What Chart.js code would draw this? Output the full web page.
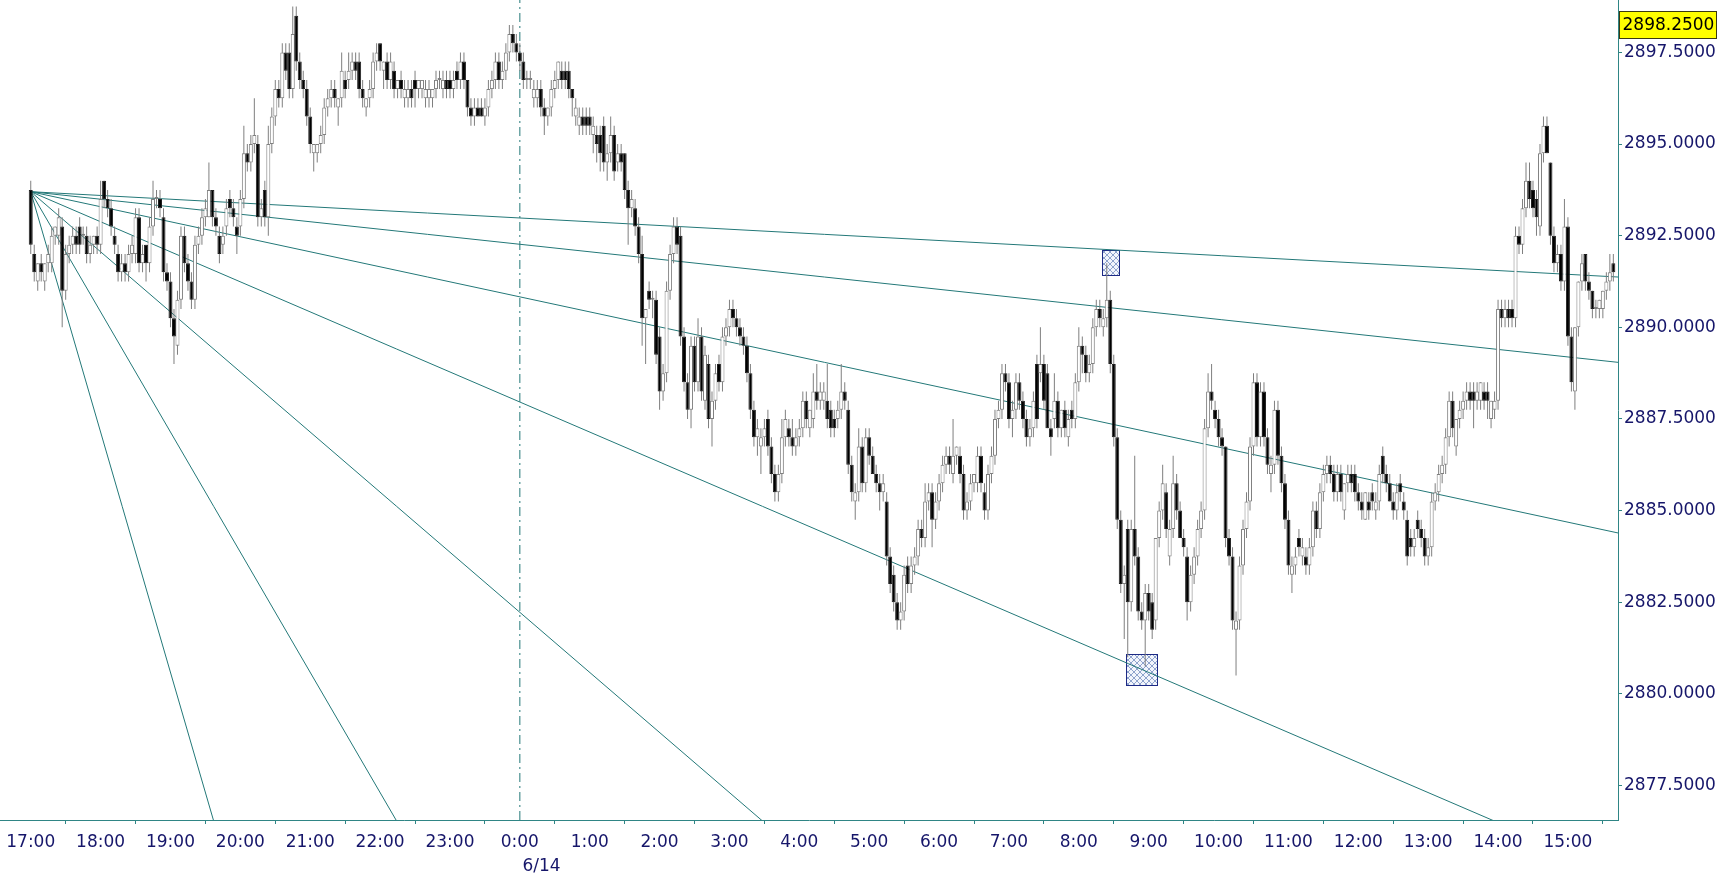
<!DOCTYPE html>
<html><head><meta charset="utf-8">
<script src="https://cdn.jsdelivr.net/npm/chart.js@4.4.1/dist/chart.umd.min.js"></script>
<style>html,body{margin:0;padding:0;background:#ffffff;overflow:hidden}#wrap{width:1719px;height:891px;position:relative}</style>
</head><body><div id="wrap"><canvas id="c"></canvas></div>
<script>
const barMinutes = 3; // 3-minute candles starting 17:00
const opens = [
2893.75,2892,2891.25,2891.75,2891.25,2891.75,2891.75,2892.5,2892.5,2892.75,2891,2892,2892.25,2892.5,2892.75,2892.5,2892.5,2892,2892.25,2892.5,
2892.25,2894,2893.5,2893.25,2892.5,2892,2891.5,2891.75,2891.5,2892,2892,2893,2891.75,2892.25,2891.75,2892.75,2893.5,2893.5,2893,2891.5,
2891.25,2890.25,2889.5,2890.75,2892.5,2891.75,2891.25,2890.75,2892.25,2892.5,2893,2893,2893.75,2893,2892.5,2892.25,2892.75,2893.5,2893.25,2892.75,
2892.75,2893.5,2894.75,2894.5,2895,2895,2893,2893.75,2893,2895,2895.75,2896.5,2896.25,2897.5,2897.5,2896.5,2898.5,2897.25,2896.75,2896.5,
2895.75,2894.75,2894.75,2895,2895.25,2896,2896.25,2896.5,2896,2896.25,2896.75,2896.75,2897,2897.25,2897.25,2896.5,2896,2896.25,2896.5,2897.25,
2897.75,2897,2897.25,2896.75,2897,2896.5,2896.75,2896.25,2896.25,2896.5,2896.75,2896.5,2896.5,2896.25,2896.25,2896.25,2896.5,2896.75,2896.5,2896.75,
2896.75,2896.5,2897,2896.75,2897.25,2896.75,2896,2895.75,2896,2896,2895.75,2896,2896.5,2896.75,2897.25,2896.75,2897,2897.5,2898,2897.75,
2897.5,2897.25,2896.75,2896.75,2896.25,2896.25,2896.5,2896,2895.75,2896,2896.5,2896.75,2897,2897,2897,2896.5,2895.75,2895.5,2895.75,2895.75,
2895.75,2895.25,2895.25,2895.25,2895.5,2894.5,2894.75,2895.25,2894.5,2894.75,2894.75,2893.75,2893.25,2893.25,2892.75,2892,2890.25,2891,2890.75,2890.75,
2889.75,2888.25,2888.75,2891,2892,2892.75,2892.5,2889.75,2888.5,2887.75,2889.5,2888.5,2889.75,2888,2889,2887.5,2888,2889,2888.5,2889.75,
2890,2890.5,2890.25,2890,2889.75,2889.5,2888.75,2887.75,2887,2886.75,2887,2887.5,2886.75,2886,2885.5,2886,2887,2887.25,2887,2886.75,
2887,2887.25,2888,2887.25,2887.5,2888.25,2888,2888,2888,2887.75,2887.5,2887.5,2887.75,2888.25,2887.75,2886.25,2885.25,2885.5,2886.75,2885.75,
2887,2886.5,2886,2885.75,2885.5,2885.25,2883.75,2883.25,2882.5,2882,2882.25,2883.5,2883,2883.5,2883.75,2884.5,2884.25,2885.25,2885.5,2884.75,
2885.25,2885.75,2886.25,2886.5,2886,2886.5,2886.5,2886,2885,2885.25,2885.75,2885.75,2886.5,2885.5,2885,2886,2886.5,2887.5,2887.75,2888.75,
2888.5,2887.5,2887.75,2888.5,2888,2887.5,2887,2887.25,2889,2888.75,2889,2888.75,2887.25,2887.5,2888,2887.25,2887.75,2887,2887.75,2887.5,
2888.5,2889.5,2889.25,2888.75,2889,2890,2890.5,2890,2890.25,2890.75,2889,2887,2884.75,2883,2884.5,2882.5,2884.5,2883.75,2882.25,2882,
2882.75,2882.5,2882,2884.25,2885,2885.5,2883.75,2884.5,2885.75,2885,2884.25,2883.75,2882.5,2883.25,2883.75,2884.5,2885,2887.25,2888.25,2887.75,
2887.5,2887,2886.75,2884.25,2883.75,2881.75,2882,2883.5,2884.5,2885.25,2886.75,2888.5,2887,2888.25,2887,2886,2886.25,2887.75,2886.5,2885.75,
2884.75,2883.25,2883.5,2884.25,2883.75,2883.75,2883.5,2884,2885,2884.5,2885.5,2886,2886.25,2886,2885.5,2886,2885,2885.75,2886,2886,
2885.5,2885.25,2884.75,2885.25,2885.5,2885,2885.25,2886.5,2886,2885.75,2885.25,2885,2885.75,2885.25,2884.75,2884.25,2884,2884.75,2884.5,2884.25,
2883.75,2884,2885.25,2885.5,2886,2886.25,2887,2888,2886.75,2887.5,2887.75,2888,2888.25,2888.25,2888,2888,2888.25,2888.25,2887.5,2887.75,
2888,2890.5,2890.25,2890.5,2890.5,2890.25,2892.5,2892.25,2893.25,2894,2893.75,2893.5,2892.75,2894.75,2895.5,2894.5,2892.5,2891.75,2892,2891.25,
2892.75,2889.75,2888.25,2890,2891.25,2892,2891.25,2891,2890.5,2890.5,2890.5,2891,2891.25,2891.75
];
const highs = [
2894,2892.25,2891.75,2892,2891.75,2892.25,2892.75,2892.75,2893.25,2893,2892.25,2892.5,2892.75,2892.75,2893,2892.75,2892.75,2892.5,2892.5,2892.75,
2894,2894,2893.75,2893.5,2892.75,2892.25,2892,2892,2892.25,2892.5,2893.25,2893.25,2892.25,2892.25,2893,2894,2893.75,2893.75,2893.25,2891.75,
2891.5,2890.5,2891,2892.75,2892.75,2892,2891.5,2892.5,2892.75,2893.25,2893.5,2894.5,2893.75,2893.25,2892.75,2892.75,2893.5,2893.75,2893.5,2893,
2893.75,2895.5,2895,2895.25,2896.25,2895.25,2893.5,2894,2895.5,2896,2896.75,2896.75,2897.75,2897.75,2897.75,2898.75,2898.75,2897.5,2897,2896.75,
2896,2895,2895,2895.5,2896.25,2896.5,2896.75,2896.75,2896.25,2897.5,2897,2897.5,2897.5,2897.5,2897.5,2896.75,2896.25,2896.75,2897.5,2897.75,
2897.75,2897.25,2897.5,2897.5,2897.25,2896.75,2897,2896.75,2896.75,2896.75,2897,2896.75,2896.75,2896.75,2896.75,2896.5,2897,2897,2897,2897,
2897,2897,2897.25,2897.5,2897.5,2896.75,2896.25,2896.25,2896.25,2896.25,2896.25,2896.75,2897,2897.5,2897.5,2897.25,2897.75,2898.25,2898.25,2898,
2897.75,2897.5,2897,2897,2896.75,2896.75,2896.75,2896.25,2896,2896.75,2897,2897.25,2897.25,2897.25,2897.25,2896.5,2896.25,2896,2896,2896,
2896,2895.75,2895.5,2895.5,2895.75,2895,2895.75,2895.5,2895,2895,2894.75,2894,2893.75,2893.5,2893,2892.5,2890.5,2891.25,2891,2891,
2890,2889,2891.25,2892.25,2893,2893,2892.75,2890,2888.75,2889.75,2889.75,2890.25,2890,2889.5,2889.25,2888.25,2889,2889.25,2890,2890.25,
2890.75,2890.75,2890.5,2890.25,2890,2889.75,2889,2888,2887.5,2887.25,2887.5,2887.75,2887,2886.25,2886.25,2887.5,2887.75,2887.5,2887.5,2887.25,
2887.5,2888.25,2888.25,2887.75,2888.75,2889,2888.5,2888.5,2889,2888,2887.75,2888,2889,2888.5,2888,2886.5,2885.75,2887.25,2887,2887.25,
2887.25,2886.75,2886.25,2886,2886,2885.5,2884,2883.5,2882.75,2882.5,2883.5,2883.75,2883.75,2884,2884.75,2884.75,2885.75,2885.75,2885.75,2885.5,
2886,2886.5,2886.75,2886.75,2887.5,2886.75,2886.75,2886.25,2885.5,2886,2886,2886.75,2886.75,2885.75,2886.25,2886.75,2887.75,2888,2889,2889,
2888.75,2888,2888.75,2888.75,2888.25,2887.75,2887.5,2888.25,2889.25,2890,2889.25,2889,2887.5,2888.75,2888.25,2887.75,2888,2887.75,2888,2888.75,
2890,2889.75,2889.5,2889.25,2890.25,2890.75,2890.75,2890.5,2891.75,2891,2889.25,2887.25,2885,2883.5,2884.75,2884.75,2886.5,2884,2882.5,2883,
2883,2882.75,2884.25,2885.25,2886.25,2885.75,2884.75,2886.5,2886,2885.25,2884.5,2884,2883.5,2884,2884.75,2885.25,2887.5,2888.75,2889,2888,
2887.75,2887.25,2886.75,2884.5,2884,2882.25,2883.75,2884.75,2885.5,2887,2888.75,2888.75,2888.5,2888.5,2887.25,2886.5,2888,2888,2886.75,2886,
2885,2883.75,2884,2884.5,2884.25,2884,2884.25,2885.25,2885.25,2885.75,2886.25,2886.5,2886.5,2886.25,2886.25,2886.25,2885.75,2886.25,2886.25,2886.25,
2885.75,2885.5,2885.5,2885.5,2885.75,2885.5,2886.25,2886.75,2886.25,2886,2885.5,2885.75,2886,2885.5,2885,2884.5,2884.5,2885,2884.75,2884.5,
2884.25,2885.5,2885.75,2886.25,2886.5,2887.25,2888.25,2888.25,2887.5,2888,2888.25,2888.5,2888.5,2888.5,2888.5,2888.5,2888.5,2888.5,2888,2888.25,
2890.75,2890.75,2890.75,2890.75,2890.75,2892.75,2892.75,2893.5,2894.5,2894.5,2894,2893.75,2895,2895.75,2895.75,2894.5,2892.75,2892.25,2892.25,2893.5,
2893,2890,2890,2891.25,2892,2892,2891.5,2891,2890.75,2890.75,2891,2891.5,2892,2892
];
const lows = [
2892,2891.25,2891,2891.25,2891,2891.5,2891.5,2892.25,2892.25,2890,2890.75,2891.75,2892,2892,2892,2892.25,2891.75,2891.75,2892,2892,
2892,2893.25,2893,2892.5,2892,2891.25,2891.25,2891.25,2891.25,2891.75,2891.75,2891.5,2891.5,2891.25,2891.5,2892.5,2893.25,2893,2891.25,2891,
2890,2889,2889.25,2890.5,2891.5,2891,2890.5,2890.5,2892,2892.25,2892.75,2893,2892.75,2892.5,2891.75,2892,2892.5,2893,2892.75,2892,
2892.5,2893.25,2894.25,2894.25,2894.75,2892.75,2892.75,2892.75,2892.5,2894.75,2895.5,2896,2896,2896.75,2896.25,2896.25,2897,2896.5,2896.25,2895.5,
2894.75,2894.25,2894.5,2894.75,2895,2895.75,2896,2896,2895.5,2896,2896.25,2896.5,2896.75,2896.75,2896.25,2896,2895.75,2896,2896.25,2897,
2897,2896.5,2896.5,2896.5,2896.25,2896.25,2896.25,2896,2896,2896,2896,2896.25,2896.25,2896,2896,2896,2896.25,2896.5,2896.25,2896.25,
2896.25,2896.25,2896.5,2896.5,2896.5,2895.75,2895.5,2895.5,2895.75,2895.75,2895.5,2895.75,2896.25,2896.5,2896.5,2896.5,2896.75,2897.25,2897.5,2897.25,
2897,2896.5,2896.5,2896.5,2896,2896,2895.75,2895.25,2895.5,2895.75,2896.25,2896.5,2896.5,2896.5,2896.25,2895.75,2895.5,2895.25,2895.25,2895.25,
2895.25,2894.75,2894.5,2894.25,2894.25,2894,2894.5,2894,2894.25,2894.25,2893.5,2892.25,2893,2892.5,2891.75,2889.5,2889,2890.5,2890.25,2889,
2887.75,2888,2888.5,2890.75,2891.75,2892,2889.5,2888.25,2887.5,2887.25,2888.25,2888.25,2888,2887.75,2887.25,2886.75,2887.75,2888.25,2888.25,2889.5,
2889.75,2890,2889.75,2889.5,2889.25,2888.5,2887.5,2886.75,2886.5,2886,2886.75,2886.5,2885.75,2885.25,2885.25,2885.75,2886.75,2886.75,2886.5,2886.5,
2886.75,2887,2887.25,2887,2887.25,2887.75,2887.75,2887.75,2887.25,2887,2887,2887.25,2887.5,2887.75,2886,2885.25,2884.75,2885.25,2885.5,2885.5,
2886.25,2886,2885.5,2885,2885.25,2883.5,2882.75,2882.25,2881.75,2881.75,2882,2882.75,2882.75,2883.25,2883.5,2884,2884,2885,2884,2884.5,
2885,2885.5,2886,2886,2885.75,2886.25,2885.75,2884.75,2884.75,2885,2885.5,2885.5,2885.5,2884.75,2884.75,2885.75,2886.25,2887.25,2887.5,2888.25,
2887.25,2887,2887.5,2887.75,2887.25,2886.75,2886.75,2887,2887.25,2888.5,2887.75,2887.25,2886.5,2887.25,2887,2887,2887,2886.75,2887.25,2887.25,
2888.25,2888.75,2888.5,2888.5,2888.75,2889.75,2890,2889.75,2890,2888.75,2886.75,2884.5,2882.75,2881.5,2881,2882.25,2883.5,2882,2881.75,2880.75,
2882,2881.5,2881.75,2884,2884.75,2884.25,2883.5,2884.25,2884.75,2884.25,2883.75,2882,2882.25,2883,2883.5,2884.25,2884.75,2887,2887.75,2887.25,
2886.75,2886.5,2884,2883.5,2881.75,2880.5,2881.75,2883.25,2884.25,2885,2886.5,2886.75,2886.75,2886.75,2886,2885.5,2886,2886.25,2885.5,2884.5,
2883.25,2882.75,2883.25,2883.75,2883.5,2883.25,2883.25,2883.75,2884.25,2884.25,2885.25,2885.75,2885.75,2885.25,2885.25,2885.25,2884.75,2885.5,2885.5,2885.25,
2885,2884.75,2884.75,2884.75,2885,2884.75,2885,2885.75,2885.5,2885.25,2884.75,2884.75,2885.25,2884.75,2883.5,2883.75,2883.75,2884.25,2884,2883.5,
2883.5,2883.75,2885,2885.25,2885.75,2886,2886.75,2887,2886.5,2887.25,2887.5,2887.75,2887.75,2887.25,2887.75,2887.75,2887.75,2887.5,2887.25,2887.5,
2887.75,2890,2890,2890,2890,2890,2892,2892,2893,2893.25,2893,2892.5,2892.5,2894.5,2894.75,2892.25,2891.5,2891.5,2891,2891,
2889.5,2888.25,2887.75,2889.75,2891,2891,2890.75,2890.25,2890.25,2890.25,2890.25,2890.75,2891,2891.25
];
const closes = [
2892.25,2891.5,2891.75,2891.5,2891.75,2892,2892.5,2892.75,2893,2891,2892,2892.25,2892.5,2892.25,2892.25,2892.5,2892,2892.25,2892.5,2892.25,
2893.5,2893.5,2893.25,2892.75,2892.25,2891.5,2891.75,2891.5,2892,2892.25,2893,2891.75,2892,2891.75,2892.75,2893.5,2893.5,2893.25,2891.5,2891.25,
2890.25,2889.75,2890.75,2892.5,2891.75,2891.25,2890.75,2892.25,2892.5,2893,2893.25,2893.75,2893,2892.75,2892,2892.5,2893.25,2893.25,2893,2892.5,
2893.5,2894.75,2894.5,2895,2895.25,2893,2893.25,2893,2895,2895.75,2896.5,2896.25,2897.5,2897,2896.5,2898,2897.25,2896.75,2896.5,2895.75,
2895,2895,2895,2895.25,2896,2896.25,2896.5,2896.25,2896.25,2897,2896.5,2897,2897.25,2897,2896.5,2896.25,2896.25,2896.5,2897.25,2897.5,
2897.25,2897.25,2896.75,2897.25,2896.5,2896.75,2896.5,2896.5,2896.5,2896.25,2896.5,2896.75,2896.75,2896.5,2896.5,2896.5,2896.75,2896.75,2896.75,2896.5,
2896.5,2896.75,2896.75,2897.25,2896.75,2896,2895.75,2896,2895.75,2895.75,2896,2896.5,2896.75,2897.25,2896.75,2897,2897.5,2898,2897.75,2897.5,
2897.25,2896.75,2896.75,2896.75,2896.5,2896.5,2896,2895.75,2896,2896.5,2896.75,2897.25,2896.75,2896.75,2896.5,2896.25,2896,2895.75,2895.5,2895.5,
2895.5,2895.5,2895,2894.75,2894.5,2894.75,2895.25,2894.25,2894.75,2894.5,2893.75,2893.25,2893.5,2892.75,2892,2890.25,2890.5,2890.75,2890.75,2889.25,
2888.25,2888.75,2891,2892,2892.75,2892.25,2889.75,2888.5,2887.75,2889.5,2888.5,2889.75,2888.25,2889.25,2887.5,2888,2888.75,2888.5,2889.75,2890,
2890.5,2890.25,2890,2889.75,2889.5,2888.75,2887.75,2887,2887.25,2887,2887.25,2886.75,2886,2885.5,2886,2887,2887.5,2887,2886.75,2887,
2887.25,2888,2887.5,2887.75,2888.25,2888,2888.25,2888.25,2887.5,2887.25,2887.25,2887.75,2888.25,2888,2886.25,2885.5,2885.5,2886.75,2885.75,2887,
2886.5,2886,2885.75,2885.5,2885.75,2883.75,2883,2882.5,2882,2882.25,2883.25,2883,2883.5,2883.75,2884.5,2884.25,2885.25,2885.5,2884.75,2885.25,
2885.75,2886.25,2886.5,2886.25,2886.5,2886.75,2886,2885,2885.25,2885.75,2886,2886.5,2885.75,2885,2886,2886.5,2887.5,2887.75,2888.75,2888.5,
2887.5,2887.75,2888.5,2888,2887.5,2887,2887.25,2888,2887.5,2889,2888,2887.25,2887,2888,2887.25,2887.75,2887.25,2887.5,2887.5,2888.5,
2889.5,2889.25,2888.75,2889,2890,2890.5,2890.25,2890.25,2890.75,2889,2887,2884.75,2883,2883.25,2882.5,2884.5,2883.75,2882.25,2882,2882.75,
2882.25,2881.75,2884.25,2885,2885.75,2884.5,2884.5,2885.75,2885,2884.25,2884,2882.5,2883.25,2883.75,2884.5,2885,2887.25,2888.25,2888,2887.5,
2887,2886.75,2884.25,2883.75,2882,2882,2883.5,2884.5,2885.25,2886.75,2888.5,2887,2888.25,2887,2886.25,2886.25,2887.75,2886.5,2885.75,2884.75,
2883.5,2883.5,2883.75,2884,2884,2883.5,2884,2885,2884.5,2885.5,2886,2886.25,2886,2885.5,2886,2885.5,2885.75,2886,2885.75,2885.5,
2885.25,2885,2885.5,2885,2885.25,2885.25,2886,2886,2885.75,2885.25,2885,2885.5,2885.5,2885,2883.75,2884,2884.25,2884.5,2884.25,2883.75,
2884,2885.25,2885.5,2886,2886.25,2887,2888,2887.25,2887.5,2887.75,2888,2888.25,2888,2888,2888.25,2888.5,2888,2888,2888,2888,
2890.5,2890.25,2890.5,2890.25,2890.25,2892.5,2892.25,2893.25,2894,2893.5,2893.25,2893,2894.75,2895.5,2894.75,2892.5,2891.75,2892,2891.25,2892.75,
2889.75,2888.5,2890,2891.25,2891.75,2891.25,2891,2890.5,2890.5,2890.75,2891,2891.25,2891.5,2891.5
];
const xTickMinutes = [0,60,120,180,240,300,360,420,480,540,600,660,720,780,840,900,960,1020,1080,1140,1200,1260,1320];
const xTickLabels = ['17:00','18:00','19:00','20:00','21:00','22:00','23:00',['0:00','\u2007\u2007\u2007\u20076/14'],'1:00','2:00','3:00','4:00','5:00','6:00','7:00','8:00','9:00','10:00','11:00','12:00','13:00','14:00','15:00'];
const yTicks = [2877.5,2880,2882.5,2885,2887.5,2890,2892.5,2895,2897.5];
const markerPrice = 2898.25;
const fanAnchorTime = 0, fanAnchorPrice = 2893.70;
const fanBaseSlope = -0.01366; // price per minute of the 1x1 line
const fanRatios = [0.125,0.25,0.5,1,2,4,8];
const sessionBreakTime = 420;
const boxTimes = [[919.7,934.6],[940.5,967.2]];
const boxPrices = [[2891.43,2892.10],[2880.25,2881.09]];
const xRange = [-26.4,1363];
const yRange = [2876.56,2898.93];

const FONT = 'DejaVu Sans';
const TXT = '#16166a';
const AXIS = '#2f8585';
const FAN = '#237878';

const n = Math.min(opens.length, highs.length, lows.length, closes.length);
const times = [];
for (let i = 0; i < n; i++) times.push(i * barMinutes);
const wickData = times.map((t,i)=>({x:t, y:[lows[i], highs[i]]}));
const bodyData = times.map((t,i)=>({x:t, y:[Math.min(opens[i],closes[i]), Math.max(opens[i],closes[i])]}));
const isUp = times.map((t,i)=> closes[i] >= opens[i]);
const bodyFill = isUp.map(u => u ? '#ffffff' : '#000000');
const bodyEdge = isUp.map(u => u ? '#808080' : '#202020');

const fanSets = fanRatios.map(r => ({
  type:'line',
  data:[{x:fanAnchorTime,y:fanAnchorPrice},{x:xRange[1],y:fanAnchorPrice + fanBaseSlope*r*(xRange[1]-fanAnchorTime)}],
  borderColor:FAN, borderWidth:1, pointRadius:0, tension:0, order:10
}));

function makeHatch(ctx){
  const p = document.createElement('canvas'); p.width = 6; p.height = 6;
  const g = p.getContext('2d');
  g.fillStyle = '#f2f5fc'; g.fillRect(0,0,6,6);
  g.strokeStyle = '#8ea3cc'; g.lineWidth = 1;
  g.beginPath(); g.moveTo(0,0); g.lineTo(6,6); g.moveTo(6,0); g.lineTo(0,6); g.stroke();
  return ctx.createPattern(p,'repeat');
}

const boxPlugin = {
  id:'boxes',
  beforeDatasetsDraw(chart){
    const {ctx, scales:{x,y}} = chart;
    const pat = makeHatch(ctx);
    ctx.save();
    boxTimes.forEach((bt,k)=>{
      const x0 = Math.round(x.getPixelForValue(bt[0]))+0.5, x1 = Math.round(x.getPixelForValue(bt[1]))+0.5;
      const y0 = Math.round(y.getPixelForValue(boxPrices[k][1]))+0.5, y1 = Math.round(y.getPixelForValue(boxPrices[k][0]))+0.5;
      ctx.fillStyle = pat; ctx.fillRect(x0,y0,x1-x0,y1-y0);
      ctx.strokeStyle = '#1d2a85'; ctx.lineWidth = 1; ctx.strokeRect(x0,y0,x1-x0,y1-y0);
    });
    ctx.restore();
  }
};
const markerPlugin = {
  id:'marker',
  afterDraw(chart){
    const {ctx, chartArea, scales:{y}} = chart;
    const py = y.getPixelForValue(markerPrice);
    const x0 = chartArea.right + 1.5, w = 97, h = 27;
    ctx.save();
    ctx.fillStyle = '#ffff00';
    ctx.fillRect(x0, Math.round(py - h/2)+0.5, w, h);
    ctx.strokeStyle = '#3a3a10'; ctx.lineWidth = 1;
    ctx.strokeRect(x0, Math.round(py - h/2)+0.5, w, h);
    ctx.fillStyle = '#000000';
    ctx.font = '17px "' + FONT + '"';
    ctx.textBaseline = 'middle'; ctx.textAlign = 'left';
    ctx.fillText(markerPrice.toFixed(4), x0 + 3, py + 1);
    ctx.restore();
  }
};

new Chart(document.getElementById('c'), {
  type:'bar',
  data:{ datasets:[
    ...fanSets,
    {type:'line', data:[{x:sessionBreakTime,y:yRange[0]},{x:sessionBreakTime,y:yRange[1]}], borderColor:FAN, borderWidth:1, borderDash:[9,4,2,4], pointRadius:0, order:10},
    {type:'bar', data:wickData, backgroundColor:'#7f7f7f', borderWidth:0, barThickness:1, inflateAmount:0, grouped:false, order:5},
    {type:'bar', data:bodyData, backgroundColor:bodyFill, borderColor:bodyEdge, borderWidth:1, borderSkipped:false, barThickness:4, minBarLength:2, inflateAmount:0, grouped:false, order:1}
  ]},
  options:{
    responsive:true, maintainAspectRatio:false, animation:false,
    layout:{padding:0},
    events:[],
    plugins:{legend:{display:false}, tooltip:{enabled:false}},
    scales:{
      x:{
        type:'linear', min:xRange[0], max:xRange[1], offset:false,
        afterBuildTicks:s=>{ s.ticks = xTickMinutes.map(v=>({value:v})); },
        afterFit:s=>{ s.height = 71; s.paddingLeft = 0; s.paddingRight = 0; },
        ticks:{autoSkip:false, maxRotation:0, minRotation:0, padding:6, color:TXT, font:{family:FONT,size:17,lineHeight:1.43}, callback:(v,i)=>xTickLabels[i]},
        grid:{drawOnChartArea:false, drawTicks:true, tickLength:4, color:AXIS},
        border:{display:true, color:AXIS, width:1}
      },
      y:{
        type:'linear', position:'right', min:yRange[0], max:yRange[1],
        afterBuildTicks:s=>{ s.ticks = yTicks.map(v=>({value:v})); },
        afterFit:s=>{ s.width = 101; s.paddingTop = 0; s.paddingBottom = 0; },
        ticks:{color:TXT, padding:2, font:{family:FONT,size:17}, callback:v=>Number(v).toFixed(4)},
        grid:{drawOnChartArea:false, drawTicks:true, tickLength:4, color:AXIS},
        border:{display:true, color:AXIS, width:1}
      }
    }
  },
  plugins:[boxPlugin, markerPlugin]
});
</script>
</body></html>
